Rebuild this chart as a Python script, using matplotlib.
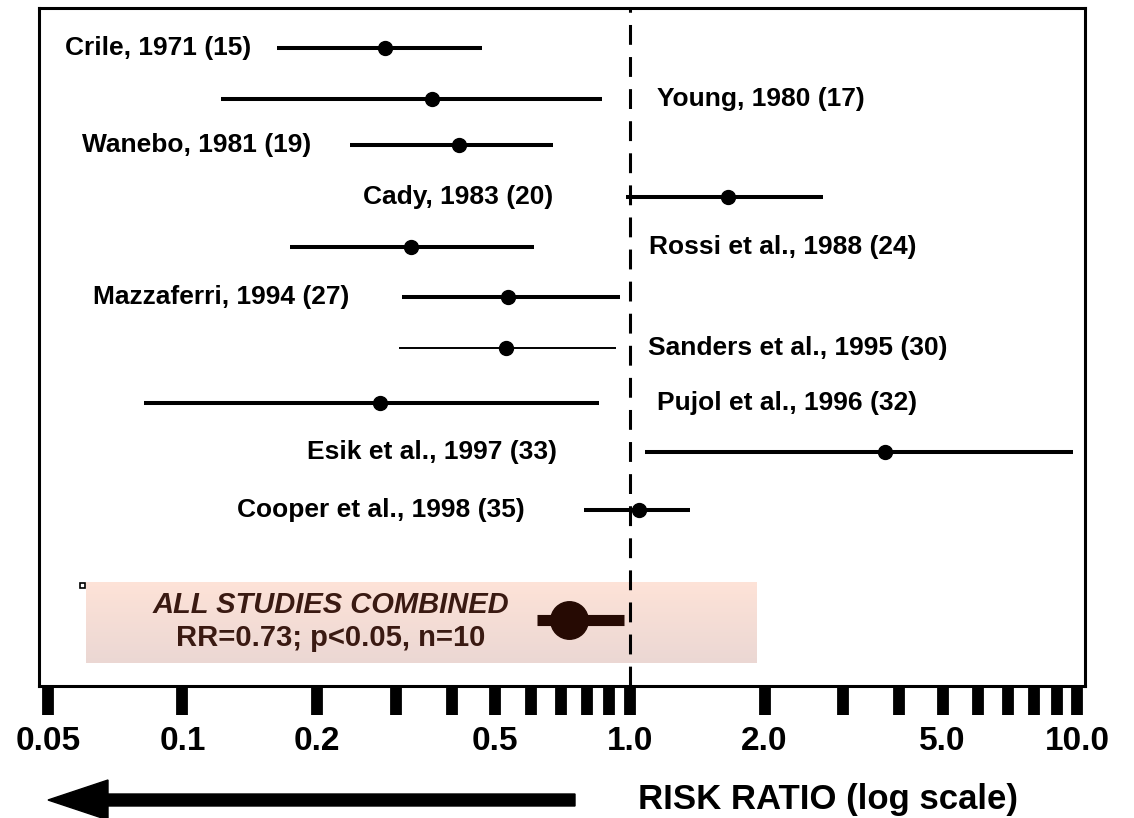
import matplotlib
matplotlib.use("Agg")
import matplotlib.pyplot as plt
from matplotlib.patches import FancyArrow, Rectangle
from matplotlib.ticker import NullFormatter, FixedLocator
import numpy as np

plt.rcParams['font.family'] = ['Liberation Sans', 'DejaVu Sans']
plt.rcParams['font.weight'] = 'bold'

# study data (risk ratio with confidence limits)
studies = ["Crile, 1971 (15)", "Young, 1980 (17)", "Wanebo, 1981 (19)",
           "Cady, 1983 (20)", "Rossi et al., 1988 (24)", "Mazzaferri, 1994 (27)",
           "Sanders et al., 1995 (30)", "Pujol et al., 1996 (32)",
           "Esik et al., 1997 (33)", "Cooper et al., 1998 (35)"]
rr = [0.284, 0.362, 0.416, 1.66, 0.325, 0.535, 0.528, 0.277, 3.71, 1.05]
lo = [0.163, 0.122, 0.237, 0.978, 0.174, 0.309, 0.305, 0.082, 1.08, 0.790]
hi = [0.467, 0.865, 0.673, 2.70, 0.611, 0.951, 0.929, 0.851, 9.77, 1.36]

pooled_rr = 0.73
pooled_lo = 0.62
pooled_hi = 0.97

major_ticks = [0.05, 0.1, 0.2, 0.5, 1.0, 2.0, 5.0, 10.0]
major_labels = ["0.05", "0.1", "0.2", "0.5", "1.0", "2.0", "5.0", "10.0"]
minor_ticks = [0.3, 0.4, 0.6, 0.7, 0.8, 0.9, 3, 4, 6, 7, 8, 9]

# layout: row centres (in pixel-like units) and label anchors
row_y = [48, 99, 145, 197, 247, 297, 348, 403, 452, 510]
pooled_y = 620
label_x = [0.2025, 0.591, 0.260, 0.492, 0.583, 0.297, 0.582, 0.591, 0.495, 0.464]
label_ha = ['right', 'left', 'right', 'right', 'left', 'right', 'left', 'left', 'right', 'right']
bar_lw = [2.9, 2.9, 2.9, 2.9, 2.9, 2.9, 1.4, 2.9, 2.9, 2.9]

W, H = 1134, 818
fig = plt.figure(figsize=(W / 100, H / 100), dpi=100)
L, R, T, B = 39, 1085, 8, 686
ax = fig.add_axes([L / W, 1 - B / H, (R - L) / W, (B - T) / H])

ax.set_xscale('log')
ax.set_xlim(0.0478, 10.4)
ax.set_ylim(B, T)

for s in ax.spines.values():
    s.set_linewidth(2.2)

# pooled box with a soft vertical gradient
bx0, bx1 = (86 - L) / (R - L), (757 - L) / (R - L)
by_top, by_bot = (B - 583) / (B - T), (B - 663) / (B - T)
top_c = np.array([0xfd, 0xe2, 0xd7]) / 255
bot_c = np.array([0xeb, 0xd7, 0xd3]) / 255
n = 40
for i in range(n):
    f = i / (n - 1)
    c = top_c * (1 - f) + bot_c * f
    y0 = by_top - (i + 1) * (by_top - by_bot) / n
    ax.add_patch(Rectangle((bx0, y0), bx1 - bx0, (by_top - by_bot) / n + 0.001,
                           transform=ax.transAxes, color=c, lw=0, zorder=0))

# reference line at RR = 1
ax.axvline(1.0, color='black', lw=2.2, dashes=(6.5, 4), zorder=1)

for i in range(len(studies)):
    ax.plot([lo[i], hi[i]], [row_y[i], row_y[i]], color='black', lw=bar_lw[i],
            solid_capstyle='butt', zorder=2)
    ax.plot(rr[i], row_y[i], 'o', color='black', ms=10, zorder=3)
    ax.text(label_x[i], row_y[i], studies[i], transform=ax.get_yaxis_transform(),
            ha=label_ha[i], va='center', fontsize=19, fontweight='bold')

brown = '#260a03'
ax.plot([pooled_lo, pooled_hi], [pooled_y, pooled_y], color=brown, lw=8,
        solid_capstyle='butt', zorder=2)
ax.plot(pooled_rr, pooled_y, 'o', color=brown, ms=27, zorder=3)

box_cx = (331 - L) / (R - L)
ax.text(box_cx, 605, "ALL STUDIES COMBINED", transform=ax.get_yaxis_transform(),
        ha='center', va='center', fontsize=21, fontweight='bold', style='italic',
        color='#3a1a12')
ax.text(box_cx, 638, "RR=0.73; p<0.05, n=10", transform=ax.get_yaxis_transform(),
        ha='center', va='center', fontsize=21, fontweight='bold', color='#3a1a12')

# tiny open square at the box corner
fig.add_artist(Rectangle((80 / 100, (H - 588) / 100), 0.05, 0.05,
                         transform=fig.dpi_scale_trans, fc='white', ec='black', lw=1.2))

ax.xaxis.set_major_locator(FixedLocator(major_ticks))
ax.xaxis.set_minor_locator(FixedLocator(minor_ticks))
ax.set_xticklabels(major_labels)
ax.xaxis.set_minor_formatter(NullFormatter())
ax.tick_params(axis='x', which='both', direction='out', length=21, width=8.5,
               pad=8, labelsize=24)
ax.tick_params(axis='y', left=False, labelleft=False)
for t in ax.get_xticklabels():
    t.set_fontweight('bold')

# arrow and axis title under the axis
fig.add_artist(FancyArrow(5.75, (H - 800) / 100, -5.27, 0, width=0.12,
                          head_width=0.40, head_length=0.60,
                          length_includes_head=True, color='black',
                          transform=fig.dpi_scale_trans))
fig.text(638 / W, 1 - 800 / H, "RISK RATIO (log scale)", ha='left', va='center',
         fontsize=25, fontweight='bold')

fig.savefig("out.png", dpi=100)
